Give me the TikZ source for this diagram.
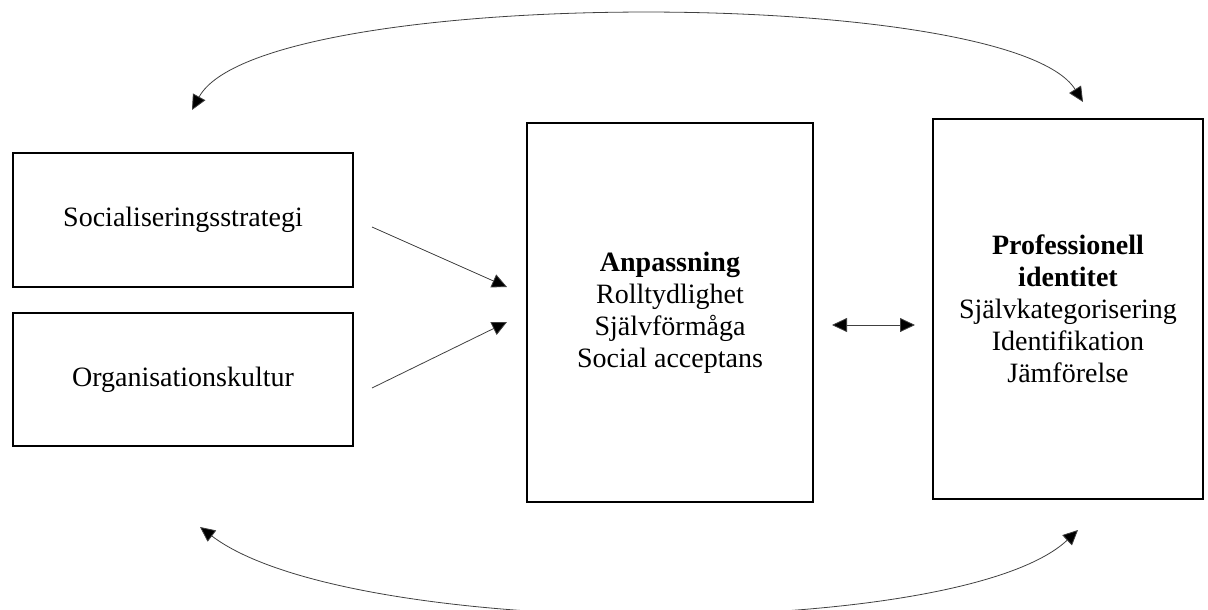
\documentclass[tikz,border=0pt]{standalone}
\usepackage{fontspec}
\setmainfont{Liberation Serif}
\usetikzlibrary{arrows.meta}
\begin{document}
\begin{tikzpicture}[x=1pt,y=-1pt,
  box/.style={draw=black,line width=1.6pt,rectangle,inner sep=0pt,align=center,
    font=\fontsize{28}{32}\selectfont},
  conn/.style={draw=black!75,line width=0.8pt,-{Triangle[length=15pt,width=14pt,fill=black]}},
  dconn/.style={draw=black!75,line width=0.8pt,{Triangle[length=15pt,width=14pt,fill=black]}-{Triangle[length=15pt,width=14pt,fill=black]}}]
\useasboundingbox (0,0) rectangle (1208,610);
\node[box,minimum width=340pt,minimum height=134pt] (soc) at (183,220) {Socialiseringsstrategi};
\node[box,minimum width=340pt,minimum height=133pt] (org) at (183,379.5) {Organisationskultur};
\node[box,minimum width=286pt,minimum height=379pt] (anp) at (670,312.5)
  {\textbf{Anpassning}\\Rolltydlighet\\Självförmåga\\Social acceptans};
\node[box,minimum width=270pt,minimum height=380pt] (pro) at (1068,309)
  {\textbf{Professionell}\\\textbf{identitet}\\Självkategorisering\\Identifikation\\Jämförelse};
\coordinate (a1s) at (372,227);
\coordinate (a1e) at (507,287);
\coordinate (a2s) at (372,388);
\coordinate (a2e) at (507,322);
\coordinate (ds) at (832,325);
\coordinate (de) at (915,325);
\coordinate (tl) at (192,110);
\coordinate (tr) at (1083,102);
\coordinate (bl) at (200,527);
\coordinate (br) at (1078,530);
\draw[conn] (a1s) -- (a1e);
\draw[conn] (a2s) -- (a2e);
\draw[dconn] (ds) -- (de);
\draw[dconn] (tl) .. controls (260,-15) and (1010,-15) .. (tr);
\draw[dconn] (bl) .. controls (350,641) and (960,641) .. (br);
\end{tikzpicture}
\end{document}
